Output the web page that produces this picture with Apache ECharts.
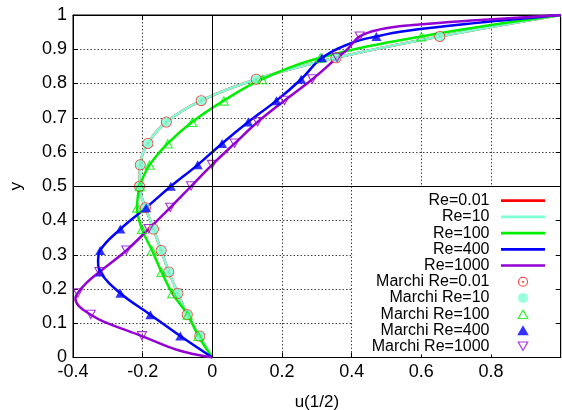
<!DOCTYPE html>
<html>
<head>
<meta charset="utf-8">
<script src="https://cdn.jsdelivr.net/npm/echarts@6/dist/echarts.min.js"></script>
<style>
html,body{margin:0;padding:0;background:#fff;}
#chart{width:562px;height:410px;}
</style>
</head>
<body>
<div id="chart"></div>
<script>
// ---- data ----
const yLevels = [0.0625,0.125,0.1875,0.25,0.3125,0.375,0.4375,0.5,0.5625,0.625,0.6875,0.75,0.8125,0.875,0.9375];
const marchiRe001 = [-0.036,-0.072,-0.099,-0.125,-0.147,-0.169,-0.192,-0.209,-0.207,-0.185,-0.132,-0.032,0.126,0.355,0.653];
const marchiRe10  = [-0.036,-0.072,-0.099,-0.125,-0.147,-0.169,-0.192,-0.209,-0.207,-0.185,-0.132,-0.032,0.126,0.355,0.653];
const marchiRe100 = [-0.040,-0.071,-0.115,-0.146,-0.173,-0.202,-0.216,-0.208,-0.180,-0.128,-0.058,0.033,0.143,0.310,0.600];
const marchiRe400 = [-0.092,-0.178,-0.264,-0.322,-0.322,-0.264,-0.190,-0.119,-0.042,0.028,0.103,0.184,0.255,0.315,0.471];
const marchiRe1000 = [-0.202,-0.349,-0.386,-0.324,-0.247,-0.183,-0.121,-0.061,-0.001,0.064,0.130,0.207,0.287,0.358,0.423];

const lineRe001 = [[0,0],[-0.036,0.0625],[-0.072,0.125],[-0.099,0.1875],[-0.125,0.25],[-0.147,0.3125],[-0.169,0.375],[-0.192,0.4375],[-0.209,0.5],[-0.207,0.5625],[-0.185,0.625],[-0.132,0.6875],[-0.032,0.75],[0.126,0.8125],[0.355,0.875],[0.653,0.9375],[1,1]];
const lineRe10 = [[0,0],[-0.036,0.0625],[-0.072,0.125],[-0.099,0.1875],[-0.125,0.25],[-0.147,0.3125],[-0.169,0.375],[-0.192,0.4375],[-0.209,0.5],[-0.207,0.5625],[-0.185,0.625],[-0.132,0.6875],[-0.032,0.75],[0.126,0.8125],[0.355,0.875],[0.653,0.9375],[1,1]];
const lineRe100 = [[0,0],[-0.040,0.0625],[-0.071,0.125],[-0.115,0.1875],[-0.146,0.25],[-0.173,0.3125],[-0.202,0.375],[-0.216,0.4375],[-0.208,0.5],[-0.180,0.5625],[-0.128,0.625],[-0.058,0.6875],[0.033,0.75],[0.143,0.8125],[0.310,0.875],[0.600,0.9375],[1,1]];
const lineRe400 = [[0,0],[-0.092,0.0625],[-0.178,0.125],[-0.264,0.1875],[-0.322,0.25],[-0.328,0.28],[-0.322,0.3125],[-0.264,0.375],[-0.190,0.4375],[-0.119,0.5],[-0.042,0.5625],[0.028,0.625],[0.103,0.6875],[0.184,0.75],[0.255,0.8125],[0.315,0.875],[0.396,0.917],[0.471,0.9375],[0.56,0.954],[0.76,0.977],[1,1]];
const lineRe1000 = [[0,0],[-0.100,0.022],[-0.202,0.0625],[-0.312,0.105],[-0.349,0.125],[-0.383,0.15],[-0.393,0.172],[-0.387,0.1875],[-0.362,0.217],[-0.324,0.25],[-0.247,0.3125],[-0.183,0.375],[-0.121,0.4375],[-0.061,0.5],[-0.001,0.5625],[0.064,0.625],[0.130,0.6875],[0.207,0.75],[0.287,0.8125],[0.358,0.875],[0.386,0.898],[0.423,0.9375],[0.482,0.958],[0.568,0.97],[0.78,0.986],[1,1]];

const xTicks = {min: -0.4, max: 1, step: 0.2};
const yTicks = {min: 0, max: 1, step: 0.1};
const refLines = {u: 0, y: 0.5};

const names = ['Re=0.01','Re=10','Re=100','Re=400','Re=1000','Marchi Re=0.01','Marchi Re=10','Marchi Re=100','Marchi Re=400','Marchi Re=1000'];

// ---- styling ----
const FONT = "'Liberation Sans', Arial, sans-serif";
const C = {red:'#ff0000', aqua:'#7fffd4', green:'#00ee00', blue:'#0000ff', purple:'#9400d3'};
const ringDot = 'path://M10,0A10,10,0,1,1,-10,0A10,10,0,1,1,10,0ZM8,0A8,8,0,1,0,-8,0A8,8,0,1,0,8,0ZM2,0A2,2,0,1,1,-2,0A2,2,0,1,1,2,0Z';
const hollowUp = 'path://M0,-10L11,9L-11,9ZM0,-5.5L-7.25,7L7.25,7Z';
const solidUp = 'path://M0,-10L11,9L-11,9Z';
const hollowDown = 'path://M0,10L-11,-9L11,-9ZM0,5.5L7.25,-7L-7.25,-7Z';
const lineIcon = 'path://M0,0L44,0L44,2.7L0,2.7Z';

function pts(arr){ return yLevels.map((y,i)=>[arr[i], y]); }
function lineSeries(name, data, color, extra){
  return Object.assign({
    name, type:'line', data, smooth:0.4, symbol:'none', showSymbol:false,
    lineStyle:{color, width:2.5}, itemStyle:{color}, z:2, animation:false
  }, extra||{});
}
function scatterSeries(name, data, symbol, size, color){
  return {name, type:'scatter', data, symbol, symbolSize:size, itemStyle:{color}, z:3, animation:false};
}

const chart = echarts.init(document.getElementById('chart'), null, {renderer:'canvas'});
const option = {
  backgroundColor:'#fff',
  animation:false,
  textStyle:{fontFamily:FONT},
  grid:{left:73, right:1.3, top:15, bottom:52.5, show:true, borderColor:'#000', borderWidth:1, containLabel:false, outerBoundsMode:'none'},
  xAxis:[{
    type:'value', min:xTicks.min, max:xTicks.max, interval:xTicks.step, position:'bottom',
    name:'u(1/2)', nameLocation:'middle', nameGap:36,
    nameTextStyle:{fontSize:17, color:'#000', fontFamily:FONT},
    axisLine:{show:true, onZero:false, lineStyle:{color:'#000', width:1}},
    axisTick:{show:true, inside:true, length:5, lineStyle:{color:'#000'}},
    axisLabel:{fontSize:18, color:'#000', margin:6, fontFamily:FONT, alignMaxLabel:'left'},
    splitLine:{show:true, lineStyle:{color:'#444', type:[1.5,2], width:1}}
  },{
    type:'value', min:xTicks.min, max:xTicks.max, interval:xTicks.step, position:'top',
    axisLine:{show:true, onZero:false, lineStyle:{color:'#000'}},
    axisTick:{show:true, inside:true, length:5, lineStyle:{color:'#000'}},
    axisLabel:{show:false}, splitLine:{show:false}
  }],
  yAxis:[{
    type:'value', min:yTicks.min, max:yTicks.max, interval:yTicks.step, position:'left',
    name:'y', nameLocation:'middle', nameGap:48,
    nameTextStyle:{fontSize:17, color:'#000', fontFamily:FONT},
    axisLine:{show:true, onZero:false, lineStyle:{color:'#000', width:1}},
    axisTick:{show:true, inside:true, length:5, lineStyle:{color:'#000'}},
    axisLabel:{fontSize:18, color:'#000', margin:6, fontFamily:FONT},
    splitLine:{show:true, lineStyle:{color:'#444', type:[1.5,2], width:1}}
  },{
    type:'value', min:yTicks.min, max:yTicks.max, interval:yTicks.step, position:'right',
    axisLine:{show:true, onZero:false, lineStyle:{color:'#000'}},
    axisTick:{show:true, inside:true, length:5, lineStyle:{color:'#000'}},
    axisLabel:{show:false}, splitLine:{show:false}
  }],
  legend:{
    orient:'vertical', align:'right', right:7, top:187,
    padding:[5.7,10,0,18.5],
    backgroundColor:'#fff',
    itemWidth:44, itemHeight:10, itemGap:0.2,
    selectedMode:false,
    textStyle:{fontSize:16, lineHeight:16, color:'#000', fontFamily:FONT, padding:[0,6.5,0,0]},
    data:[
      {name:names[0], icon:lineIcon},
      {name:names[1], icon:lineIcon},
      {name:names[2], icon:lineIcon},
      {name:names[3], icon:lineIcon},
      {name:names[4], icon:lineIcon},
      {name:names[5]},
      {name:names[6]},
      {name:names[7]},
      {name:names[8]},
      {name:names[9]}
    ]
  },
  series:[
    lineSeries(names[0], lineRe001, C.red, {
      markLine:{silent:true, symbol:'none', animation:false,
        label:{show:false},
        lineStyle:{color:'#000', type:'solid', width:1},
        data:[{xAxis:refLines.u},{yAxis:refLines.y}]}
    }),
    lineSeries(names[1], lineRe10, C.aqua),
    lineSeries(names[2], lineRe100, C.green),
    lineSeries(names[3], lineRe400, C.blue),
    lineSeries(names[4], lineRe1000, C.purple),
    scatterSeries(names[5], pts(marchiRe001), ringDot, 11, C.red),
    scatterSeries(names[6], pts(marchiRe10), 'circle', 9.5, C.aqua),
    scatterSeries(names[7], pts(marchiRe100), hollowUp, [11,10], C.green),
    scatterSeries(names[8], pts(marchiRe400), solidUp, [10,9], C.blue),
    scatterSeries(names[9], pts(marchiRe1000), hollowDown, [11,10], C.purple)
  ]
};
chart.setOption(option);
</script>
</body>
</html>
